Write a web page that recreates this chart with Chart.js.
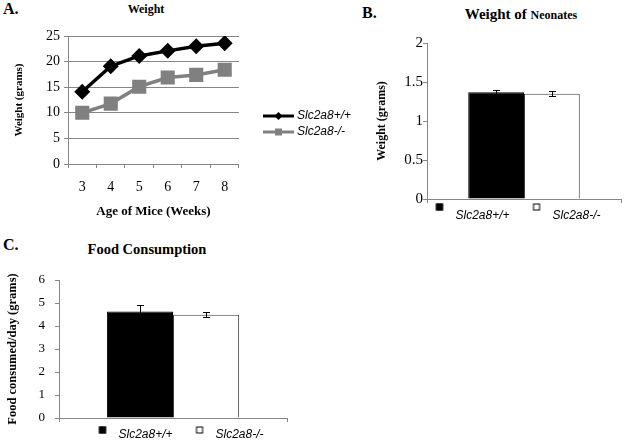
<!DOCTYPE html>
<html>
<head>
<meta charset="utf-8">
<script src="https://cdn.jsdelivr.net/npm/chart.js@4.4.1/dist/chart.umd.min.js"></script>
<style>
  html, body { margin: 0; padding: 0; background: #fff; width: 624px; height: 443px; overflow: hidden; position: relative; }
  canvas { position: absolute; }
  .lbl { position: absolute; font-family: 'Liberation Serif', 'Times New Roman', serif; font-weight: bold; line-height: 1; white-space: nowrap; color: #000; }
</style>
</head>
<body>
<div class="lbl" style="left:3px;top:1px;font-size:16px">A.</div>
<div class="lbl" style="left:96px;width:100px;text-align:center;top:3px;font-size:12px">Weight</div>
<div class="lbl" style="left:362px;top:5px;font-size:16px">B.</div>
<div class="lbl" style="left:461px;width:120px;text-align:center;top:7px;font-size:15px">Weight of <span style="font-size:12px">Neonates</span></div>
<div class="lbl" style="left:3px;top:237px;font-size:16px">C.</div>
<div class="lbl" style="left:87px;width:120px;text-align:center;top:242px;font-size:14.5px">Food Consumption</div>

<canvas id="weightChart" width="370" height="225" style="left:0;top:0"></canvas>
<canvas id="neonateChart" width="254" height="235" style="left:370px;top:0"></canvas>
<canvas id="foodChart" width="320" height="221" style="left:0;top:230px"></canvas>

<script>
// Panel A: body weight by age
const ages = ['3', '4', '5', '6', '7', '8'];
const weightWT = [14.1, 19.1, 21.1, 22.1, 23.0, 23.6];
const weightKO = [10.0, 11.8, 15.1, 16.9, 17.4, 18.4];

// Panels B and C: genotype means and errors
const genotypes = ['Slc2a8+/+', 'Slc2a8-/-'];
const neonateMean = [1.37, 1.35];
const neonateErr = [0.03, 0.03];
const foodMean = [4.63, 4.49];
const foodErr = [0.27, 0.1];

const serif = "'Liberation Serif', 'Times New Roman', serif";
const sans = "'Liberation Sans', Arial, sans-serif";
const axisGray = '#868686';
const legendFont = { family: sans, size: 12, style: 'italic' };

// Legend symbols
function lineIcon(color, shape) {
  const c = document.createElement('canvas');
  c.width = 56; c.height = 14;
  const g = c.getContext('2d');
  g.strokeStyle = color; g.lineWidth = 3;
  g.beginPath(); g.moveTo(24, 7); g.lineTo(55, 7); g.stroke();
  g.fillStyle = color;
  g.beginPath();
  if (shape === 'diamond') {
    g.moveTo(39.5, 3); g.lineTo(43.5, 7); g.lineTo(39.5, 11); g.lineTo(35.5, 7); g.closePath();
  } else {
    g.rect(36, 3.5, 7, 7);
  }
  g.fill();
  return c;
}

function boxIcon(fill, dy) {
  const c = document.createElement('canvas');
  c.width = 30; c.height = 30;
  const g = c.getContext('2d');
  g.fillStyle = fill;
  g.fillRect(16.5, 11.5 - dy, 7, 7);
  g.strokeStyle = '#000'; g.lineWidth = 1;
  g.strokeRect(17, 12 - dy, 6, 6);
  return c;
}

function withIcons(icons) {
  return chart => {
    const items = Chart.defaults.plugins.legend.labels.generateLabels(chart);
    items.forEach((it, i) => { it.pointStyle = icons[i]; });
    return items;
  };
}

// simple error bars on top of the bars
const errorBars = {
  id: 'errorBars',
  afterDatasetsDraw(chart, args, opts) {
    const { ctx } = chart;
    const y = chart.scales.y;
    ctx.save();
    ctx.strokeStyle = '#000';
    ctx.lineWidth = 1;
    chart.data.datasets.forEach((ds, i) => {
      chart.getDatasetMeta(i).data.forEach((bar, j) => {
        const v = ds.data[j], e = opts.errors[i];
        const x = Math.round(bar.x) + 0.5;
        const top = Math.round(y.getPixelForValue(v + e)) + 0.5;
        const bot = Math.round(y.getPixelForValue(v - e)) + 0.5;
        ctx.beginPath();
        ctx.moveTo(x, top); ctx.lineTo(x, bot);
        ctx.moveTo(x - 3.5, top); ctx.lineTo(x + 3.5, top);
        ctx.moveTo(x - 3.5, bot); ctx.lineTo(x + 3.5, bot);
        ctx.stroke();
      });
    });
    ctx.restore();
  }
};

// A. Weight
new Chart(document.getElementById('weightChart'), {
  type: 'line',
  data: {
    labels: ages,
    datasets: [
      {
        label: genotypes[0], data: weightWT,
        borderColor: '#000', backgroundColor: '#000', borderWidth: 3.5,
        pointStyle: 'rectRot', pointRadius: 5.5, tension: 0
      },
      {
        label: genotypes[1], data: weightKO,
        borderColor: '#808080', backgroundColor: '#808080', borderWidth: 3.5,
        pointStyle: 'rect', pointRadius: 7.5, tension: 0
      }
    ]
  },
  options: {
    responsive: false,
    animation: false,
    devicePixelRatio: 1,
    layout: { padding: { top: 36, left: 0, bottom: 13, right: 9 } },
    scales: {
      x: {
        offset: true,
        grid: { drawOnChartArea: false, offset: true, tickLength: 4, color: axisGray },
        border: { color: axisGray },
        ticks: { color: '#000', font: { family: serif, size: 14 }, padding: 10.6 },
        title: {
          display: true, text: 'Age of Mice (Weeks)', color: '#000',
          font: { family: serif, size: 13, weight: 'bold' },
          padding: { top: 0, bottom: -7.8 }
        },
        afterFit: s => { s.height = 48; }
      },
      y: {
        min: 0, max: 25,
        ticks: { stepSize: 5, color: '#000', font: { family: serif, size: 14 }, padding: 4 },
        grid: { color: axisGray, tickLength: 4 },
        border: { color: axisGray },
        title: {
          display: true, text: 'Weight (grams)', color: '#000',
          font: { family: serif, size: 11, weight: 'bold' },
          padding: { top: 12.4, bottom: 0 }
        },
        afterFit: s => { s.width = 68; }
      }
    },
    plugins: {
      legend: {
        position: 'right',
        maxWidth: 200,
        labels: {
          usePointStyle: true, pointStyleWidth: 48, padding: 4,
          color: '#000', font: legendFont,
          generateLabels: withIcons([lineIcon('#000', 'diamond'), lineIcon('#808080', 'square')])
        }
      },
      tooltip: { enabled: false }
    }
  }
});

// B. Weight of Neonates
new Chart(document.getElementById('neonateChart'), {
  type: 'bar',
  data: {
    labels: [''],
    datasets: [
      { label: genotypes[0], data: [neonateMean[0]], backgroundColor: '#000', borderColor: '#000', borderWidth: 1 },
      { label: genotypes[1], data: [neonateMean[1]], backgroundColor: '#fff', borderColor: '#404040', borderWidth: 1 }
    ]
  },
  options: {
    responsive: false,
    animation: false,
    devicePixelRatio: 1,
    datasets: { bar: { barPercentage: 1, categoryPercentage: 0.575 } },
    layout: { padding: { top: 43, left: 29, right: 3, bottom: 3 } },
    scales: {
      x: {
        grid: { drawOnChartArea: false, tickLength: 4, color: axisGray },
        border: { color: axisGray },
        ticks: { display: false },
        afterFit: s => { s.height = 4; }
      },
      y: {
        min: 0, max: 2,
        ticks: {
          stepSize: 0.5, color: '#000', font: { family: serif, size: 15 }, padding: 0,
          callback: v => String(v)
        },
        grid: { drawOnChartArea: false, tickLength: 4, color: axisGray },
        border: { color: axisGray },
        title: {
          display: true, text: 'Weight (grams)', color: '#000',
          font: { family: serif, size: 12, weight: 'bold' },
          padding: { top: -24.2, bottom: 0 }
        },
        afterFit: s => { s.width = 28; }
      }
    },
    plugins: {
      legend: {
        position: 'bottom',
        fullSize: true,
        labels: {
          usePointStyle: true, pointStyleWidth: 30, padding: 7,
          color: '#000', font: legendFont,
          generateLabels: withIcons([boxIcon('#000', 9), boxIcon('#fff', 9)])
        }
      },
      errorBars: { errors: neonateErr },
      tooltip: { enabled: false }
    }
  },
  plugins: [errorBars]
});

// C. Food Consumption
new Chart(document.getElementById('foodChart'), {
  type: 'bar',
  data: {
    labels: [''],
    datasets: [
      { label: genotypes[0], data: [foodMean[0]], backgroundColor: '#000', borderColor: '#000', borderWidth: 1 },
      { label: genotypes[1], data: [foodMean[1]], backgroundColor: '#fff', borderColor: '#404040', borderWidth: 1 }
    ]
  },
  options: {
    responsive: false,
    animation: false,
    devicePixelRatio: 1,
    datasets: { bar: { barPercentage: 1, categoryPercentage: 0.58 } },
    layout: { padding: { top: 50, left: 0, right: 33, bottom: 0 } },
    scales: {
      x: {
        grid: { drawOnChartArea: false, tickLength: 4, color: axisGray },
        border: { color: axisGray },
        ticks: { display: false },
        afterFit: s => { s.height = 4; }
      },
      y: {
        min: 0, max: 6,
        ticks: { stepSize: 1, color: '#000', font: { family: serif, size: 13 }, padding: 10 },
        grid: { drawOnChartArea: false, tickLength: 4, color: axisGray },
        border: { color: axisGray },
        title: {
          display: true, text: 'Food consumed/day (grams)', color: '#000',
          font: { family: serif, size: 12.5, weight: 'bold' },
          padding: { top: 5.5, bottom: 0 }
        },
        afterFit: s => { s.width = 59; }
      }
    },
    plugins: {
      legend: {
        position: 'bottom',
        fullSize: false,
        labels: {
          usePointStyle: true, pointStyleWidth: 30, padding: 7,
          color: '#000', font: legendFont,
          generateLabels: withIcons([boxIcon('#000', 5), boxIcon('#fff', 5)])
        }
      },
      errorBars: { errors: foodErr },
      tooltip: { enabled: false }
    }
  },
  plugins: [errorBars]
});
</script>
</body>
</html>
